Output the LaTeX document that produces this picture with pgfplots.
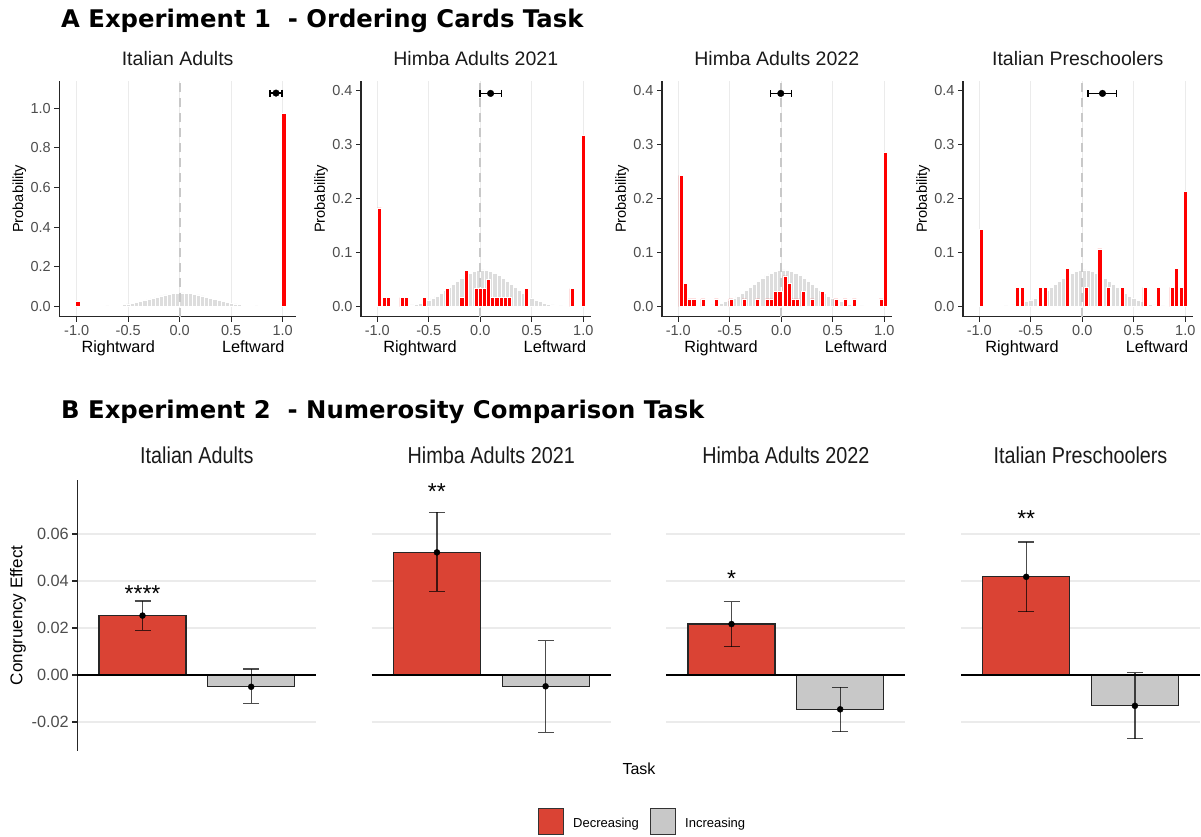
\documentclass[border=0pt]{standalone}
\usepackage{fontspec}
\setmainfont{Liberation Sans}
\newfontfamily\hdr{DejaVu Sans}
\usepackage{pgfplots}
\usepackage{pgfplotstable}
\usetikzlibrary{plotmarks}
\pgfplotsset{compat=1.18}

\definecolor{barred}{RGB}{218,67,52}
\definecolor{bargray}{RGB}{200,200,200}
\definecolor{nullgray}{RGB}{221,221,221}
\definecolor{dashgray}{RGB}{200,200,200}
\definecolor{gridgray}{RGB}{235,235,235}
\definecolor{ticklab}{RGB}{77,77,77}
\definecolor{titlec}{RGB}{26,26,26}

% null distribution (same in every panel)
\pgfplotstableread{
x y
-0.86 0.0005
-0.82 0.0008
-0.78 0.0011
-0.74 0.0017
-0.70 0.0025
-0.66 0.0036
-0.62 0.0050
-0.58 0.0068
-0.54 0.0092
-0.50 0.0121
-0.46 0.0157
-0.42 0.0198
-0.38 0.0245
-0.34 0.0297
-0.30 0.0354
-0.26 0.0412
-0.22 0.0471
-0.18 0.0527
-0.14 0.0578
-0.10 0.0620
-0.06 0.0653
-0.02 0.0673
0.02 0.0680
0.06 0.0673
0.10 0.0653
0.14 0.0620
0.18 0.0578
0.22 0.0527
0.26 0.0471
0.30 0.0412
0.34 0.0354
0.38 0.0297
0.42 0.0245
0.46 0.0198
0.50 0.0157
0.54 0.0121
0.58 0.0092
0.62 0.0068
0.66 0.0050
0.70 0.0036
0.74 0.0025
0.78 0.0017
0.82 0.0011
0.86 0.0008
0.90 0.0005
}\nulltab

\pgfplotstableread{
x y
-0.99 0.025
1.01 0.975
}\redA

\pgfplotstableread{
x y
-0.98 0.183
-0.935 0.0167
-0.895 0.0167
-0.76 0.0167
-0.72 0.0167
-0.54 0.0167
-0.32 0.0333
-0.18 0.0167
-0.135 0.0667
-0.04 0.0333
0.00 0.0333
0.04 0.0333
0.08 0.05
0.12 0.0167
0.16 0.0167
0.20 0.0167
0.24 0.0167
0.28 0.0167
0.45 0.0333
0.89 0.0333
1.00 0.317
}\redB

\pgfplotstableread{
x y
-0.975 0.243
-0.935 0.0429
-0.89 0.0143
-0.85 0.0143
-0.76 0.0143
-0.63 0.0143
-0.49 0.0143
-0.36 0.0143
-0.23 0.0143
-0.135 0.0143
-0.095 0.0143
-0.055 0.0286
-0.015 0.0286
0.035 0.0571
0.075 0.0429
0.115 0.0143
0.155 0.0143
0.21 0.0286
0.30 0.0143
0.40 0.0286
0.53 0.0143
0.62 0.0143
0.71 0.0143
0.97 0.0143
1.01 0.286
}\redC

\pgfplotstableread{
x y
-0.98 0.143
-0.633 0.0357
-0.587 0.0357
-0.408 0.0357
-0.363 0.0357
-0.143 0.0714
0.035 0.0357
0.169 0.107
0.254 0.0357
0.387 0.0357
0.608 0.0357
0.741 0.0357
0.871 0.0357
0.916 0.0714
0.958 0.0357
1.003 0.214
}\redD

\pgfplotsset{
  toppanel/.style={
    scale only axis, anchor=south west, clip=false,
    height=235.7pt,
    axis x line*=bottom, axis y line*=left,
    axis line style={line width=1.3pt, draw=black!85, -},
    tick style={line width=1.1pt, black!85},
    tick align=outside, major tick length=5pt,
    xtick={-1,-0.5,0,0.5,1}, xticklabels={-1.0,-0.5,0.0,0.5,1.0},
    xmajorgrids, major grid style={line width=1pt, gridgray},
    ticklabel style={font=\fontsize{14.5}{16}\selectfont, text=ticklab},
    title style={font=\fontsize{19.5}{22}\selectfont, text=titlec, at={(0.5,1)}, anchor=base, yshift=9.3pt},
  },
  smallp/.style={
    width=229.5pt, xmin=-1.158, xmax=1.07, ymin=-0.0185, ymax=0.418,
    ytick={0,0.1,0.2,0.3,0.4}, yticklabels={0.0,0.1,0.2,0.3,0.4},
  },
  nullbars/.style={ybar, bar width=0.04, bar shift=0pt, fill=nullgray, draw=white, line width=0.5pt},
  redbars/.style={ybar, bar width=0.04, bar shift=0pt, fill=red, draw=white, line width=0.5pt},
  zeroline/.style={dashgray, line width=2.2pt, dash pattern=on 9pt off 6pt},
  meanpt/.style={black, mark=*, mark size=3.3pt,
    error bars/.cd, x dir=both, x explicit, error mark=|,
    error bar style={line width=1.3pt, black},
    error mark options={mark size=3.5pt, line width=1.3pt, black}},
  botpanel/.style={
    scale only axis, anchor=south west, clip=false,
    width=239.1pt, height=270.7pt,
    xmin=0.4, xmax=2.6, ymin=-0.0322, ymax=0.083,
    axis line style={draw=none}, scaled y ticks=false,
    xtick=\empty, ytick={-0.02,0,0.02,0.04,0.06}, ytick pos=left,
    ymajorgrids, major grid style={line width=1.2pt, gridgray},
    yticklabels={,,,,}, major tick length=0pt,
    title style={font=\fontsize{23}{26}\selectfont, text=titlec, at={(0.5,1)}, anchor=base, yshift=10pt},
  },
  decbar/.style={ybar, bar width=0.8, bar shift=0pt, fill=barred, draw=black!85, line width=1.1pt},
  incbar/.style={ybar, bar width=0.8, bar shift=0pt, fill=bargray, draw=black!85, line width=1.1pt},
  errpt/.style={black, only marks, mark=*, mark size=3pt,
    error bars/.cd, y dir=both, y explicit, error mark=|,
    error bar style={line width=1.2pt, black, opacity=0.7},
    error mark options={mark size=8pt, line width=1.2pt, black, opacity=0.7}},
}

\newcommand{\toplabels}{%
  \node[rotate=90, font=\fontsize{14.6}{16}\selectfont] at ([xshift=-40pt]rel axis cs:0,0.5) {Probability};
  \node[anchor=base, font=\fontsize{16.3}{18}\selectfont] at ([xshift=59pt, yshift=-36.3pt]rel axis cs:0,0) {Rightward};
  \node[anchor=base, font=\fontsize{16.3}{18}\selectfont] at ([xshift=194pt, yshift=-36.3pt]rel axis cs:0,0) {Leftward};
}
\newcommand{\starfont}{\fontsize{23}{26}\selectfont}

\begin{document}
\begin{tikzpicture}
\path[use as bounding box] (0,0) rectangle (1201pt,836pt);

\node[anchor=base west, inner sep=0pt, font=\hdr\bfseries\fontsize{24.3}{28}\selectfont] at (61pt,808pt) {A Experiment 1\ \ - Ordering Cards Task};
\node[anchor=base west, inner sep=0pt, font=\hdr\bfseries\fontsize{24.3}{28}\selectfont] at (61pt,417pt) {B Experiment 2\ \ - Numerosity Comparison Task};

% ---------- A: ordering cards ----------
\begin{axis}[toppanel, at={(59.3pt,519.3pt)}, width=236.7pt,
  xmin=-1.169, xmax=1.129, ymin=-0.052, ymax=1.137,
  ytick={0,0.2,0.4,0.6,0.8,1}, yticklabels={0.0,0.2,0.4,0.6,0.8,1.0},
  title={Italian Adults}]
\addplot[nullbars] table {\nulltab};
\addplot[zeroline] coordinates {(0,-0.052) (0,1.137)};
\addplot[redbars] table {\redA};
\addplot[meanpt] coordinates {(0.935,1.076) += (0.058,0) -= (0.057,0)};
\toplabels
\end{axis}

\begin{axis}[toppanel, smallp, at={(361pt,519.3pt)}, title={Himba Adults 2021}]
\addplot[nullbars] table {\nulltab};
\addplot[zeroline] coordinates {(0,-0.0185) (0,0.418)};
\addplot[redbars] table {\redB};
\addplot[meanpt] coordinates {(0.10,0.395) += (0.107,0) -= (0.103,0)};
\toplabels
\end{axis}

\begin{axis}[toppanel, smallp, at={(662pt,519.3pt)}, title={Himba Adults 2022}]
\addplot[nullbars] table {\nulltab};
\addplot[zeroline] coordinates {(0,-0.0185) (0,0.418)};
\addplot[redbars] table {\redC};
\addplot[meanpt] coordinates {(-0.005,0.395) += (0.102,0) -= (0.101,0)};
\toplabels
\end{axis}

\begin{axis}[toppanel, smallp, at={(963pt,519.3pt)}, title={Italian Preschoolers}]
\addplot[nullbars] table {\nulltab};
\addplot[zeroline] coordinates {(0,-0.0185) (0,0.418)};
\addplot[redbars] table {\redD};
\addplot[meanpt] coordinates {(0.196,0.395) += (0.138,0) -= (0.141,0)};
\toplabels
\end{axis}

% ---------- B: numerosity comparison ----------
\begin{axis}[botpanel, at={(77.3pt,85.3pt)},
  yticklabels={-0.02,0.00,0.02,0.04,0.06}, major tick length=5pt, tick align=outside,
  tick style={line width=1.1pt, black!85},
  yticklabel style={font=\fontsize{16.3}{18}\selectfont, text=ticklab},
  title={\scalebox{0.86}[1]{Italian Adults}}]
\draw[line width=1.3pt, black!85] (rel axis cs:0,0) -- (rel axis cs:0,1);
\addplot[decbar] coordinates {(1,0.0253)};
\addplot[incbar] coordinates {(2,-0.005)};
\addplot[black, line width=2.3pt] coordinates {(0.4,0) (2.6,0)};
\addplot[errpt] coordinates {(1,0.0253) += (0,0.0062) -= (0,0.0062) (2,-0.005) += (0,0.0076) -= (0,0.007)};
\node[anchor=base, font=\starfont] at (axis cs:1,0.0315) {****};
\end{axis}

\begin{axis}[botpanel, at={(371.7pt,85.3pt)}, title={\scalebox{0.86}[1]{Himba Adults 2021}}]
\addplot[decbar] coordinates {(1,0.0522)};
\addplot[incbar] coordinates {(2,-0.0048)};
\addplot[black, line width=2.3pt] coordinates {(0.4,0) (2.6,0)};
\addplot[errpt] coordinates {(1,0.0522) += (0,0.017) -= (0,0.0165) (2,-0.0048) += (0,0.0194) -= (0,0.0195)};
\node[anchor=base, font=\starfont] at (axis cs:1,0.0745) {**};
\end{axis}

\begin{axis}[botpanel, at={(666.3pt,85.3pt)}, title={\scalebox{0.86}[1]{Himba Adults 2022}}]
\addplot[decbar] coordinates {(1,0.0217)};
\addplot[incbar] coordinates {(2,-0.0146)};
\addplot[black, line width=2.3pt] coordinates {(0.4,0) (2.6,0)};
\addplot[errpt] coordinates {(1,0.0217) += (0,0.0095) -= (0,0.0097) (2,-0.0146) += (0,0.0094) -= (0,0.0095)};
\node[anchor=base, font=\starfont] at (axis cs:1,0.0378) {*};
\end{axis}

\begin{axis}[botpanel, at={(961pt,85.3pt)}, title={\scalebox{0.86}[1]{Italian Preschoolers}}]
\addplot[decbar] coordinates {(1,0.0418)};
\addplot[incbar] coordinates {(2,-0.0131)};
\addplot[black, line width=2.3pt] coordinates {(0.4,0) (2.6,0)};
\addplot[errpt] coordinates {(1,0.0418) += (0,0.0148) -= (0,0.0149) (2,-0.0131) += (0,0.0141) -= (0,0.014)};
\node[anchor=base, font=\starfont] at (axis cs:1,0.063) {**};
\end{axis}

% axis titles and legend of panel B
\node[rotate=90, font=\fontsize{17}{19}\selectfont] at (18pt,220.6pt) {Congruency Effect};
\node[anchor=base, font=\fontsize{16}{18}\selectfont] at (639pt,62pt) {Task};
\draw[fill=barred, draw=black!80, line width=1pt] (538.3pt,2pt) rectangle (563.3pt,28pt);
\node[anchor=base west, inner sep=0pt, font=\fontsize{13}{15}\selectfont] at (573pt,8.7pt) {Decreasing};
\draw[fill=bargray, draw=black!80, line width=1pt] (650.7pt,2pt) rectangle (675.7pt,28pt);
\node[anchor=base west, inner sep=0pt, font=\fontsize{13}{15}\selectfont] at (685pt,8.7pt) {Increasing};
\end{tikzpicture}
\end{document}
